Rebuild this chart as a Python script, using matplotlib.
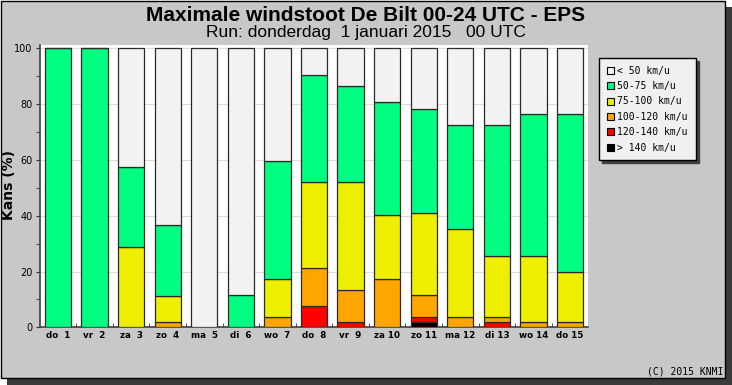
import matplotlib
matplotlib.use('Agg')
import matplotlib.pyplot as plt
from matplotlib.patches import Rectangle, Patch
import numpy as np

W, H = 732, 385

days = ['do  1', 'vr  2', 'za  3', 'zo  4', 'ma  5', 'di  6', 'wo  7', 'do  8',
        'vr  9', 'za 10', 'zo 11', 'ma 12', 'di 13', 'wo 14', 'do 15']

# percentage per class
p_gt140   = [0, 0, 0, 0, 0, 0, 0, 0, 0, 0, 1.9, 0, 0, 0, 0]
p_120_140 = [0, 0, 0, 0, 0, 0, 0, 7.7, 1.9, 0, 1.9, 0, 1.9, 0, 0]
p_100_120 = [0, 0, 0, 1.9, 0, 0, 3.8, 13.4, 11.5, 17.3, 7.7, 3.8, 1.9, 1.9, 1.9]
p_75_100  = [0, 0, 28.9, 9.4, 0, 0, 13.4, 30.9, 38.6, 23.1, 29.4, 31.3, 21.7, 23.6, 17.8]
p_50_75   = [100, 100, 28.7, 25.2, 0, 11.4, 42.4, 38.4, 34.6, 40.2, 37.5, 37.3, 46.9, 50.9, 56.7]
p_lt50    = [0, 0, 42.4, 63.5, 100, 88.6, 40.4, 9.6, 13.4, 19.4, 21.6, 27.6, 27.6, 23.6, 23.6]

classes = ['> 140 km/u', '120-140 km/u', '100-120 km/u', '75-100 km/u', '50-75 km/u', '< 50 km/u']
colors = ['#000000', '#ff0000', '#ffa500', '#eeee00', '#00ff80', '#f2f2f2']
series = [p_gt140, p_120_140, p_100_120, p_75_100, p_50_75, p_lt50]


def fx(px):
    return px / W


def fy(py):
    return 1 - py / H


fig = plt.figure(figsize=(W / 100, H / 100), dpi=100)
fig.patch.set_facecolor('white')

# panel with shadow
fig.patches.append(Rectangle((fx(7), fy(385)), fx(725), 378 / H, transform=fig.transFigure,
                             facecolor='#3a3a3a', edgecolor='none', zorder=-3))
fig.patches.append(Rectangle((fx(0.5), fy(377.5)), fx(724.5), 377 / H, transform=fig.transFigure,
                             facecolor='#c8c8c8', edgecolor='black', lw=1, zorder=-2))

ax = fig.add_axes([fx(39.7), fy(327.3), fx(548.6), (327.3 - 45) / H])
ax.set_facecolor('white')

x = np.arange(1, len(days) + 1)
bottom = np.zeros(len(days))
for vals, col in zip(series, colors):
    vals = np.array(vals)
    ax.bar(x, vals, width=0.72, bottom=bottom, color=col, edgecolor='#2a2a2a',
           linewidth=0.9, zorder=3)
    bottom += vals

ax.set_xlim(0.5, 15.5)
ax.set_ylim(0, 101.2)
ax.set_yticks([0, 20, 40, 60, 80, 100])
ax.set_yticks(np.arange(0, 101, 10), minor=True)
ax.set_xticks(x)
ax.set_xticklabels(days, fontsize=6.3, fontweight='bold', family='DejaVu Sans')
ax.set_xticks(np.arange(1.5, 15, 1), minor=True)
ax.tick_params(axis='x', which='major', length=0, pad=3)
ax.tick_params(axis='x', which='minor', direction='in', length=3, color='#333333')
ax.tick_params(axis='y', which='both', direction='out', length=3, color='#333333',
               labelsize=7, pad=2)
for lab in ax.get_yticklabels():
    lab.set_family('DejaVu Sans')
ax.grid(axis='y', color='#dddddd', lw=0.8, zorder=0)
ax.set_axisbelow(True)
for s in ['top', 'right']:
    ax.spines[s].set_visible(False)
for s in ['left', 'bottom']:
    ax.spines[s].set_color('#404040')
    ax.spines[s].set_linewidth(1.2)

fig.text(fx(9), fy(185), 'Kans (%)', rotation=90, ha='center', va='center',
         fontsize=10, fontweight='bold', family='DejaVu Sans')

fig.text(0.5, fy(21), 'Maximale windstoot De Bilt 00-24 UTC - EPS', ha='center', va='baseline',
         fontsize=15, fontweight='bold', family='Liberation Sans')
fig.text(0.5, fy(36.5), 'Run: donderdag  1 januari 2015   00 UTC', ha='center', va='baseline',
         fontsize=12.5, family='Liberation Sans')

handles = [Patch(facecolor=c, edgecolor='black', lw=0.8) for c in colors[::-1]]
leg = fig.legend(handles, classes[::-1], loc='upper left',
                 bbox_to_anchor=(fx(599), fy(58)), bbox_transform=fig.transFigure,
                 borderaxespad=0, borderpad=0.8, labelspacing=0.55,
                 handlelength=0.75, handleheight=0.75, handletextpad=0.35,
                 prop={'family': 'DejaVu Sans Mono', 'size': 7},
                 fancybox=False, shadow={'color': '#404040', 'alpha': 1}, framealpha=1)
leg.get_frame().set_facecolor('#f0f0f0')
leg.get_frame().set_edgecolor('black')
leg.get_frame().set_linewidth(1)

fig.text(fx(723), fy(372), '(C) 2015 KNMI', ha='right', va='center',
         fontsize=7, family='DejaVu Sans Mono')

fig.savefig('out.png', dpi=100, facecolor=fig.get_facecolor())
